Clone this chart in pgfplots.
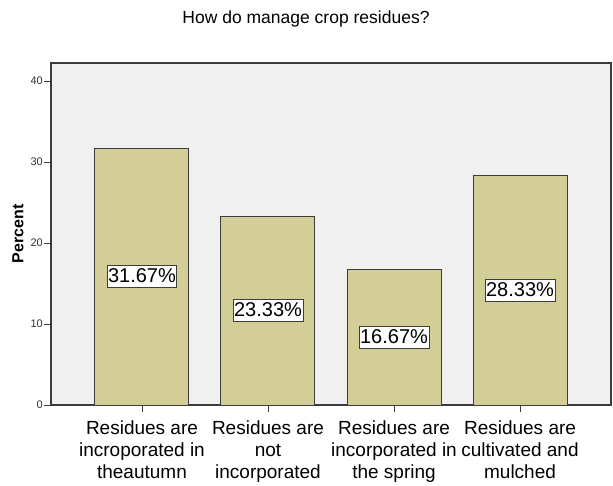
\documentclass[border=0pt]{standalone}
\usepackage{pgfplots}
\pgfplotsset{compat=1.18}
\usepackage{fontspec}
\setmainfont{Liberation Sans}
\definecolor{barfill}{RGB}{211,206,151}
\definecolor{bgfill}{RGB}{240,240,240}
\definecolor{edge}{RGB}{60,60,60}
\definecolor{ticktext}{RGB}{50,50,50}
\begin{document}
\begin{tikzpicture}
\useasboundingbox (-51pt,-80pt) rectangle (562pt,405pt);
\begin{axis}[
  at={(0pt,0pt)}, anchor=south west,
  scale only axis, width=560pt, height=342pt,
  xmin=-0.722, xmax=3.722, ymin=0, ymax=42.22,
  axis background/.style={fill=bgfill},
  axis line style={edge, line width=1.3pt},
  xtick={0,1,2,3},
  xticklabels={{Residues are\\incroporated in\\theautumn},
               {Residues are\\not\\incorporated},
               {Residues are\\incorporated in\\the spring},
               {Residues are\\cultivated and\\mulched}},
  xticklabel style={align=center, font=\fontsize{19}{22}\selectfont, inner sep=0pt, yshift=-9pt},
  ytick={0,10,20,30,40},
  yticklabel style={font=\fontsize{11}{12}\selectfont, text=ticktext, inner sep=1pt},
  /pgf/number format/assume math mode=true,
  tick align=outside, xtick pos=bottom, ytick pos=left,
  major tick length=7pt,
  tick style={edge, line width=0.8pt},
  ylabel={\bfseries Percent},
  ylabel style={font=\fontsize{16}{18}\selectfont, at={(axis description cs:-0.059,0.5)}, anchor=center},
]
\addplot[ybar, bar width=94pt, fill=barfill, draw=edge, line width=1pt,
  point meta=explicit symbolic, nodes near coords,
  visualization depends on={y \as \rawy},
  every node near coord/.append style={anchor=center, yshift=-\rawy*4.05pt,
    fill=white, draw=edge, line width=0.8pt, font=\fontsize{20}{22}\selectfont,
    inner xsep=1pt, inner ysep=2pt, text height=15pt, text depth=3pt, text=black}]
  coordinates {
    (0,31.67) [31.67\%]
    (1,23.33) [23.33\%]
    (2,16.67) [16.67\%]
    (3,28.33) [28.33\%]
  };
\end{axis}
\node[font=\fontsize{17.5}{20}\selectfont] at (255pt,386pt) {How do manage crop residues?};
\end{tikzpicture}
\end{document}
